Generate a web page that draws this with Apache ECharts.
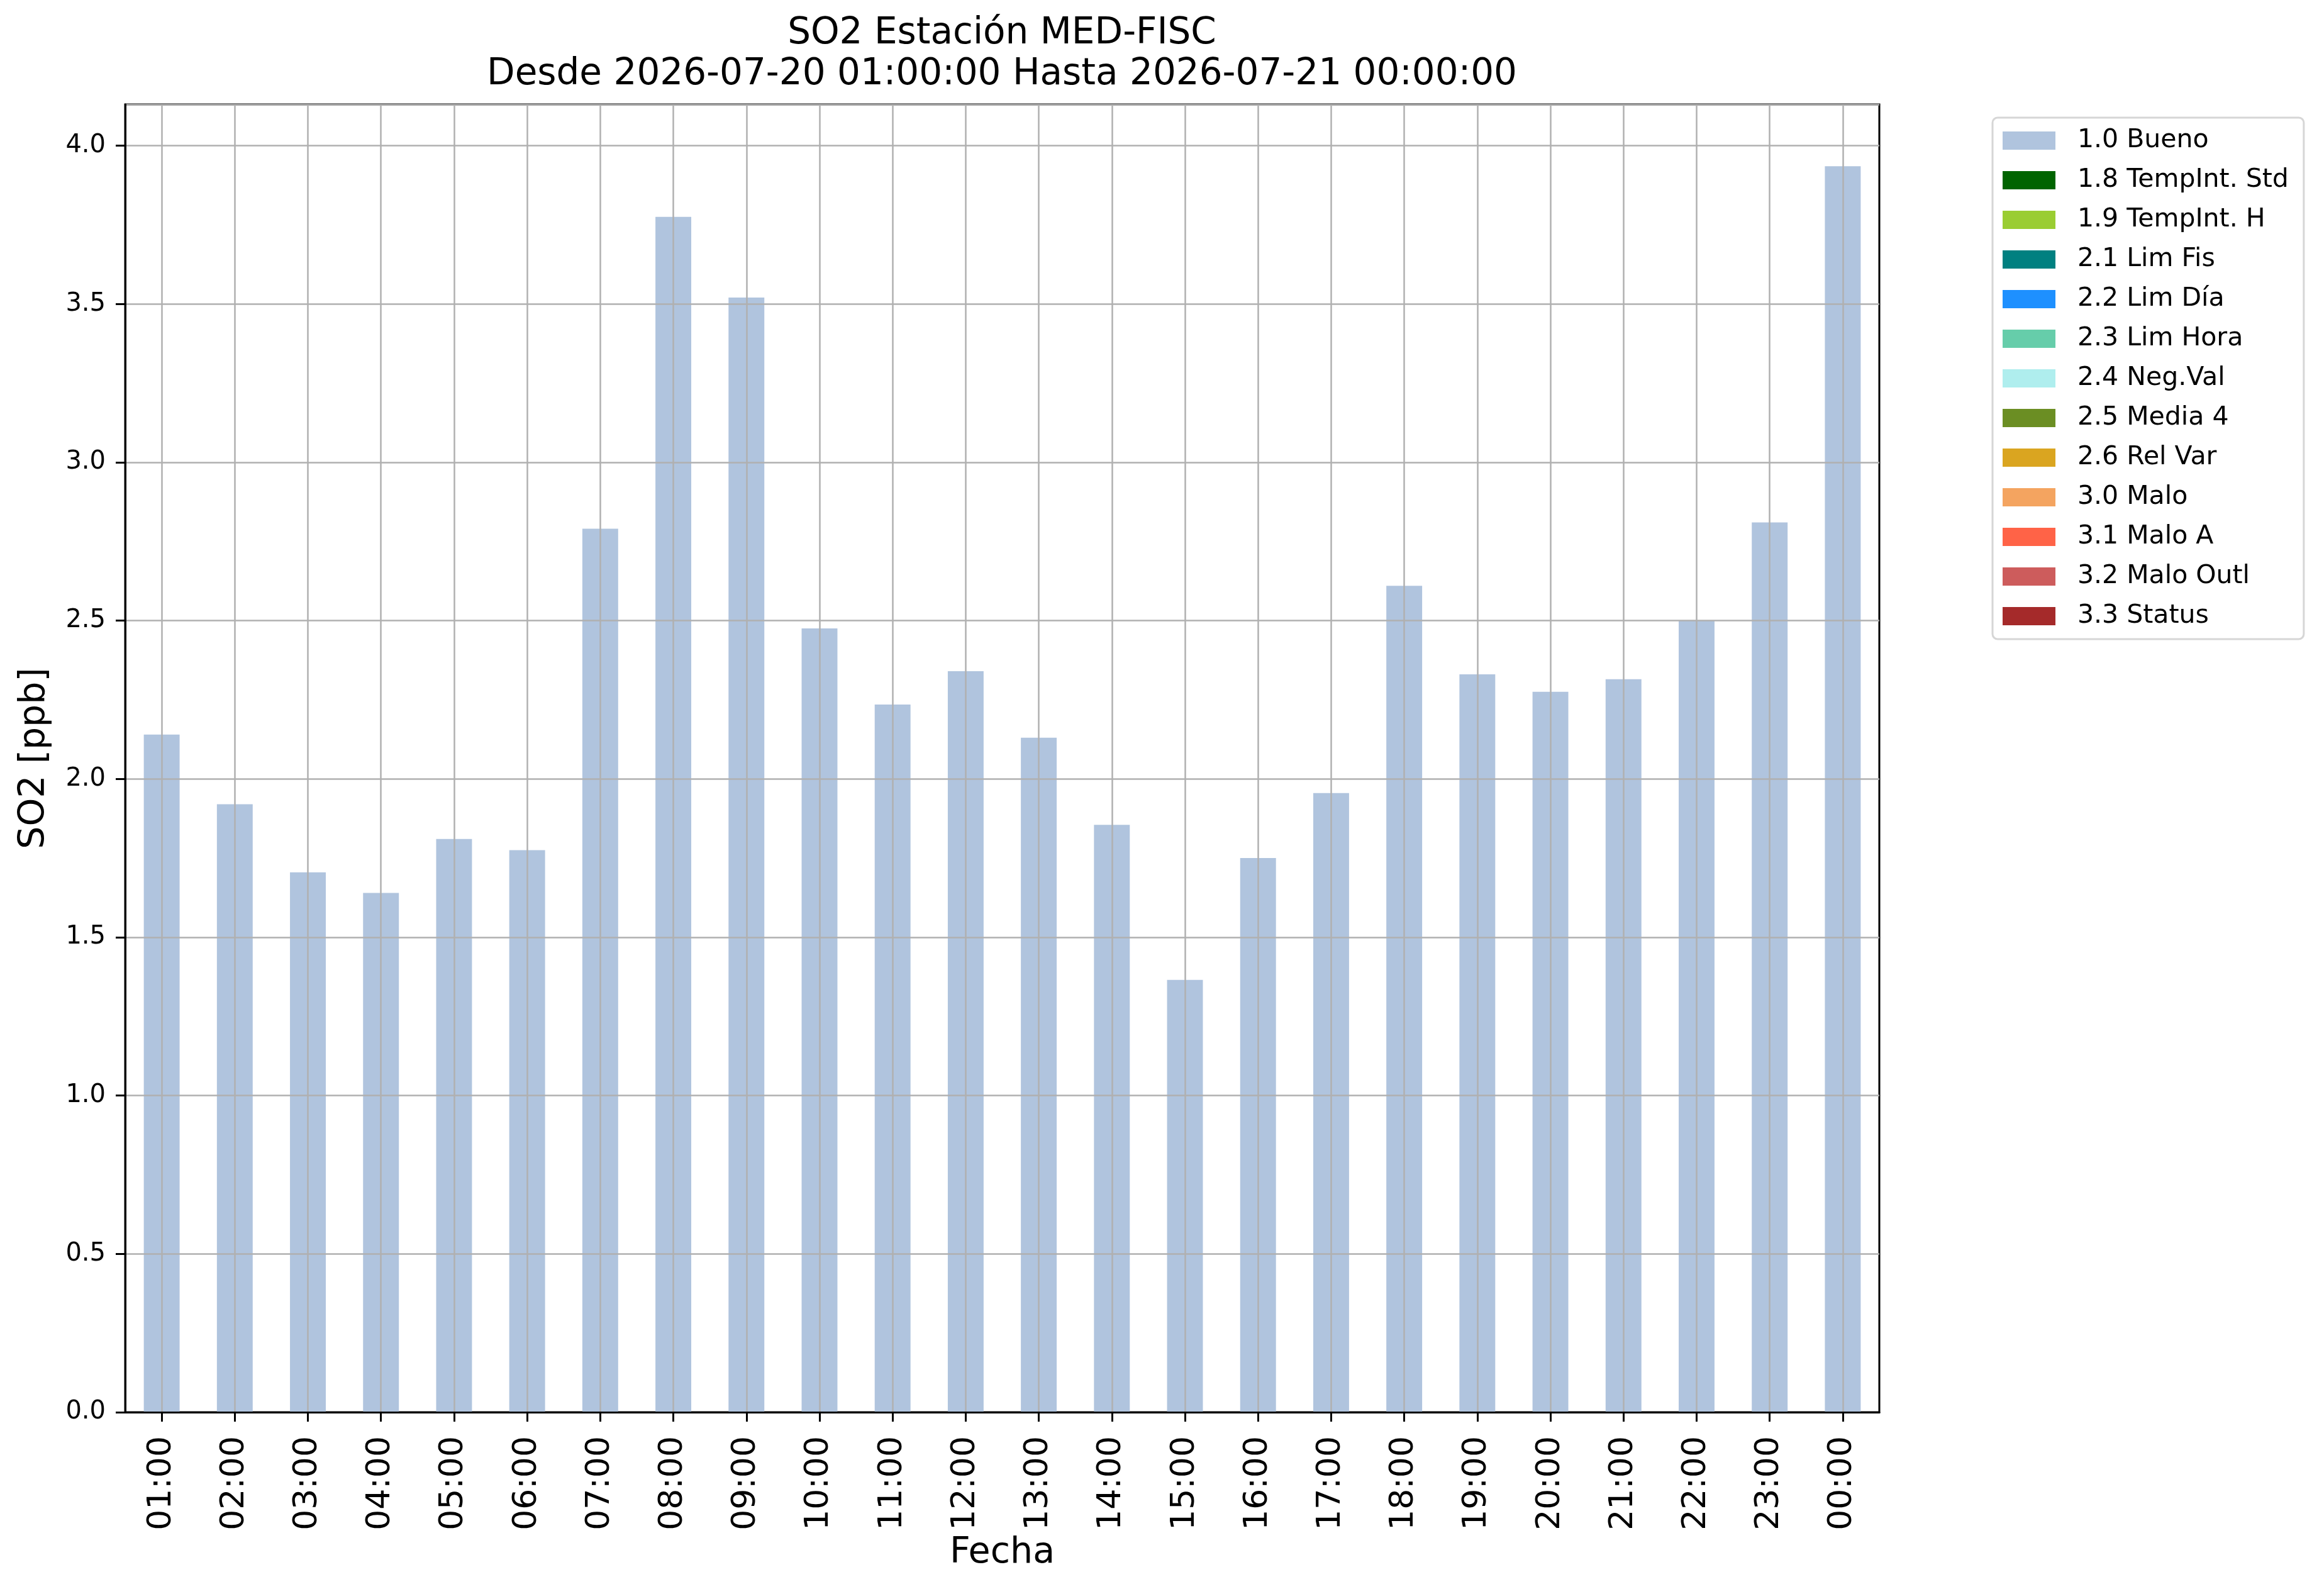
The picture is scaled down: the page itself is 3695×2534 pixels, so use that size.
<!DOCTYPE html>
<html style="height: 100%">
<head>
    <meta charset="utf-8">
</head>
<body style="height: 100%; margin: 0; background: #fff">
<div id="container" style="height: 100%"></div>
<script type="text/javascript" src="https://cdn.jsdelivr.net/npm/echarts@6/dist/echarts.min.js"></script>
<script type="text/javascript">
    var horas = ['01:00', '02:00', '03:00', '04:00', '05:00', '06:00', '07:00', '08:00',
        '09:00', '10:00', '11:00', '12:00', '13:00', '14:00', '15:00', '16:00',
        '17:00', '18:00', '19:00', '20:00', '21:00', '22:00', '23:00', '00:00'];

    var bueno = [2.14, 1.92, 1.705, 1.64, 1.81, 1.775, 2.79, 3.775,
        3.52, 2.475, 2.235, 2.34, 2.13, 1.855, 1.365, 1.75,
        1.955, 2.61, 2.33, 2.275, 2.315, 2.50, 2.81, 3.935];

    var etiquetas = ['1.0 Bueno', '1.8 TempInt. Std', '1.9 TempInt. H', '2.1 Lim Fis',
        '2.2 Lim Día', '2.3 Lim Hora', '2.4 Neg.Val', '2.5 Media 4', '2.6 Rel Var',
        '3.0 Malo', '3.1 Malo A', '3.2 Malo Outl', '3.3 Status'];

    var colores = ['#b0c4de', '#006400', '#9acd32', '#008080', '#1e90ff', '#66cdaa',
        '#afeeee', '#6b8e23', '#daa520', '#f4a460', '#ff6347', '#cd5c5c', '#a52a2a'];

    var yTicks = [0, 0.5, 1.0, 1.5, 2.0, 2.5, 3.0, 3.5, 4.0];

    var dom = document.getElementById("container");
    var myChart = echarts.init(dom);

    var series = [];
    for (var i = 0; i < etiquetas.length; i++) {
        series.push({
            name: etiquetas[i],
            type: 'bar',
            stack: 'flags',
            barWidth: '49%',
            itemStyle: {color: colores[i]},
            data: i === 0 ? bueno : []
        });
    }

    var font = 'DejaVu Sans';

    var option = {
        animation: false,
        backgroundColor: '#ffffff',
        textStyle: {fontFamily: font, color: '#000'},
        title: {
            text: 'SO2 Estación MED-FISC\nDesde 2026-07-20 01:00:00 Hasta 2026-07-21 00:00:00',
            left: 1593,
            top: 21,
            padding: 0,
            textAlign: 'center',
            textStyle: {
                fontFamily: font,
                fontWeight: 'normal',
                fontSize: 58,
                lineHeight: 65,
                color: '#000'
            }
        },
        legend: {
            orient: 'vertical',
            left: 3168,
            top: 187,
            padding: [16, 24, 16, 16],
            itemWidth: 84,
            itemHeight: 29,
            itemGap: 22,
            icon: 'rect',
            selectedMode: false,
            borderColor: '#d6d6d6',
            borderWidth: 3,
            borderRadius: 8,
            backgroundColor: '#fff',
            textStyle: {
                fontFamily: font,
                fontSize: 41,
                color: '#000',
                padding: [0, 0, 0, 30]
            },
            data: etiquetas
        },
        grid: {
            left: 199,
            right: 707,
            top: 166,
            bottom: 289,
            show: true,
            borderColor: '#000',
            borderWidth: 3,
            backgroundColor: 'transparent'
        },
        xAxis: {
            type: 'category',
            data: horas,
            z: 5,
            name: 'Fecha',
            nameLocation: 'middle',
            nameGap: 196,
            nameTextStyle: {fontFamily: font, fontSize: 57, color: '#000'},
            axisLine: {show: true, lineStyle: {color: '#000', width: 3}},
            axisTick: {show: true, alignWithLabel: true, length: 15, lineStyle: {color: '#000', width: 3}},
            axisLabel: {
                rotate: 90,
                interval: 0,
                margin: 38,
                fontFamily: font,
                fontSize: 52,
                color: '#000'
            },
            splitLine: {show: true, alignWithLabel: true, lineStyle: {color: '#b0b0b0', width: 2.5}}
        },
        yAxis: {
            type: 'value',
            min: 0,
            max: 4.13,
            interval: 0.5,
            z: 5,
            name: 'SO2 [ppb]',
            nameLocation: 'middle',
            nameGap: 115,
            nameTextStyle: {fontFamily: font, fontSize: 57, color: '#000'},
            axisLine: {show: true, lineStyle: {color: '#000', width: 3}},
            axisTick: {show: true, length: 15, lineStyle: {color: '#000', width: 3}},
            axisLabel: {
                margin: 31,
                fontFamily: font,
                fontSize: 40,
                color: '#000',
                showMaxLabel: false,
                formatter: function (v) {
                    return yTicks.indexOf(v) >= 0 ? v.toFixed(1) : '';
                }
            },
            splitLine: {show: true, lineStyle: {color: '#b0b0b0', width: 2.5}}
        },
        series: series
    };

    myChart.setOption(option, true);
</script>
</body>
</html>
